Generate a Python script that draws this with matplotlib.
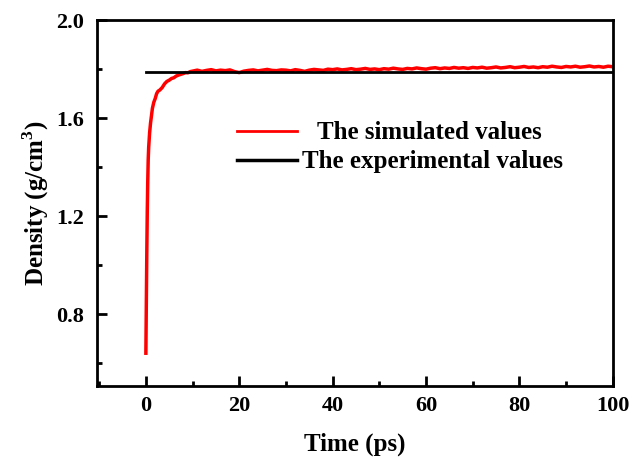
import matplotlib.pyplot as plt
from matplotlib.lines import Line2D
from matplotlib.ticker import MultipleLocator

plt.rcParams['font.family'] = ['Liberation Serif', 'DejaVu Serif']
plt.rcParams['font.weight'] = 'bold'
plt.rcParams['mathtext.fontset'] = 'custom'
plt.rcParams['mathtext.rm'] = 'Liberation Serif:bold'
plt.rcParams['mathtext.bf'] = 'Liberation Serif:bold'

# simulated density
t_rise = [0, 0.1, 0.2, 0.3, 0.4, 0.5, 0.6, 0.8, 1.0, 1.2, 1.4, 1.7, 2.0, 2.3, 2.6,
          3.0, 3.5, 4.0, 4.5, 5.0, 5.5, 6.0, 6.5, 7.0, 7.5, 8.0, 8.5, 9.0, 9.5]
d_rise = [0.64, 0.85, 1.05, 1.22, 1.34, 1.43, 1.48, 1.54, 1.58, 1.61, 1.64, 1.665, 1.68, 1.70, 1.71,
          1.715, 1.725, 1.74, 1.75, 1.755, 1.762, 1.765, 1.772, 1.776, 1.779, 1.782, 1.786, 1.785, 1.79]
t_flat = list(range(10, 101))
d_flat = [1.792, 1.796, 1.791, 1.795, 1.798, 1.793, 1.796, 1.794, 1.797, 1.790,
          1.786, 1.792, 1.795, 1.797, 1.793, 1.796, 1.799, 1.795, 1.794, 1.797,
          1.796, 1.793, 1.798, 1.795, 1.791, 1.796, 1.799, 1.797, 1.795, 1.800,
          1.798, 1.801, 1.797, 1.799, 1.802, 1.798, 1.800, 1.803, 1.799, 1.801,
          1.798, 1.802, 1.800, 1.804, 1.801, 1.799, 1.803, 1.801, 1.805, 1.802,
          1.800, 1.804, 1.806, 1.802, 1.805, 1.803, 1.807, 1.804, 1.806, 1.803,
          1.807, 1.805, 1.808, 1.804, 1.806, 1.809, 1.805, 1.807, 1.810, 1.806,
          1.808, 1.811, 1.807, 1.809, 1.806, 1.810, 1.808, 1.812, 1.809, 1.807,
          1.811, 1.809, 1.812, 1.808, 1.810, 1.813, 1.809, 1.811, 1.808, 1.812,
          1.810]
time = t_rise + t_flat
density = d_rise + d_flat

# experimental value
t_exp = [0, 100]
d_exp = [1.787, 1.787]

fig = plt.figure(figsize=(6.33, 4.59), dpi=100)
ax = fig.add_axes([0.153, 0.159, 0.815, 0.797])

ax.plot(time, density, color='red', lw=2.5)
ax.plot(t_exp, d_exp, color='black', lw=2)

ax.set_xlim(-10.5, 100)
ax.set_ylim(0.506, 2.0)
ax.xaxis.set_major_locator(MultipleLocator(20))
ax.xaxis.set_minor_locator(MultipleLocator(10))
ax.yaxis.set_minor_locator(MultipleLocator(0.2))
ax.set_yticks([0.8, 1.2, 1.6, 2.0])
ax.set_yticklabels(['0.8', '1.2', '1.6', '2.0'])
ax.tick_params(which='both', direction='in', width=2, labelsize=16)
ax.tick_params(which='major', length=7)
ax.tick_params(which='minor', length=3.5)
ax.tick_params(axis='x', pad=7)
ax.tick_params(axis='y', pad=9)
for s in ax.spines.values():
    s.set_linewidth(2)

ax.set_xlabel('Time (ps)', fontsize=18, fontweight='bold', labelpad=12)
ax.set_ylabel('Density (g/cm$^{3}$)', fontsize=18, fontweight='bold', labelpad=4)

# legend drawn by hand: Origin-style, labels not left-aligned
fig.add_artist(Line2D([0.374, 0.469], [0.715, 0.715], color='red', lw=2,
                      transform=fig.transFigure))
fig.add_artist(Line2D([0.374, 0.469], [0.651, 0.651], color='black', lw=2.5,
                      transform=fig.transFigure))
fig.text(0.501, 0.697, 'The simulated values', fontsize=18, fontweight='bold', va='baseline')
fig.text(0.477, 0.634, 'The experimental values', fontsize=18, fontweight='bold', va='baseline')

plt.savefig('out.png', dpi=100)
